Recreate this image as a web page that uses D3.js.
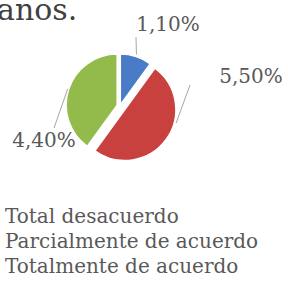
<!DOCTYPE html>
<html>
<head>
    <meta charset="utf-8">
    <title>Pie</title>
    <script src="https://cdn.jsdelivr.net/npm/d3@7"></script>
    <style>
        body { margin: 0; background: white; }
        text { font-family: "DejaVu Serif", serif; fill: #595959; }
    </style>
</head>
<body>
    <div id="chart"></div>
    <script>
        // values
        const categories = ["Total desacuerdo", "Parcialmente de acuerdo", "Totalmente de acuerdo"];
        const values = [1.10, 5.50, 4.40];
        const labels = ["1,10%", "5,50%", "4,40%"];
        const colors = ["#4a7bc6", "#c9413f", "#93bb4b"];

        const width = 288, height = 285;
        const cx = 120, cy = 106, radius = 51;
        const explode = [1, 6, 3];

        const svg = d3.select("#chart").append("svg")
            .attr("width", width)
            .attr("height", height);

        // cut-off title from the page above
        svg.append("text")
            .attr("x", -3)
            .attr("y", 20)
            .style("font-size", "30px")
            .style("fill", "#404040")
            .text("anos.");

        const pie = d3.pie().sort(null).value(d => d);
        const arcs = pie(values);
        const arc = d3.arc().innerRadius(0).outerRadius(radius);

        const g = svg.append("g").attr("transform", `translate(${cx},${cy})`);

        const offset = (d, i) => {
            const a = (d.startAngle + d.endAngle) / 2;
            return [Math.sin(a) * explode[i], -Math.cos(a) * explode[i]];
        };

        g.selectAll("path.slice")
            .data(arcs)
            .enter().append("path")
            .attr("class", "slice")
            .attr("transform", (d, i) => `translate(${offset(d, i)})`)
            .attr("d", arc)
            .attr("fill", (d, i) => colors[i])
            .attr("stroke", "white")
            .attr("stroke-width", 1.5);

        // data labels with leader lines
        const labelPos = [[168, 31], [251, 83], [44, 147]];
        const leaderAngle = [0.31, 1.83, 5.03];   // where the leader meets the slice edge
        const leaderFrom = [[136, 37], [190, 85], [66, 84]];

        arcs.forEach((d, i) => {
            const o = offset(d, i);
            const a = leaderAngle[i];
            const ex = cx + o[0] + Math.sin(a) * (radius + 2);
            const ey = cy + o[1] - Math.cos(a) * (radius + 2);
            let sx = leaderFrom[i][0], sy = leaderFrom[i][1];
            if (i === 2) { sx = 54; sy = 128; }
            svg.append("line")
                .attr("x1", sx).attr("y1", sy)
                .attr("x2", i === 2 ? cx + o[0] + Math.sin(a) * (radius + 1) : ex)
                .attr("y2", i === 2 ? cy + o[1] - Math.cos(a) * (radius + 1) : ey)
                .attr("stroke", "#a6a6a6")
                .attr("stroke-width", 1);
            svg.append("text")
                .attr("x", labelPos[i][0])
                .attr("y", labelPos[i][1])
                .attr("text-anchor", "middle")
                .style("font-size", "20px")
                .text(labels[i]);
        });

        // legend (markers cut off on the left)
        svg.selectAll("text.legend")
            .data(categories)
            .enter().append("text")
            .attr("class", "legend")
            .attr("x", 5)
            .attr("y", (d, i) => 223 + i * 25)
            .style("font-size", "20px")
            .text(d => d);
    </script>
</body>
</html>
